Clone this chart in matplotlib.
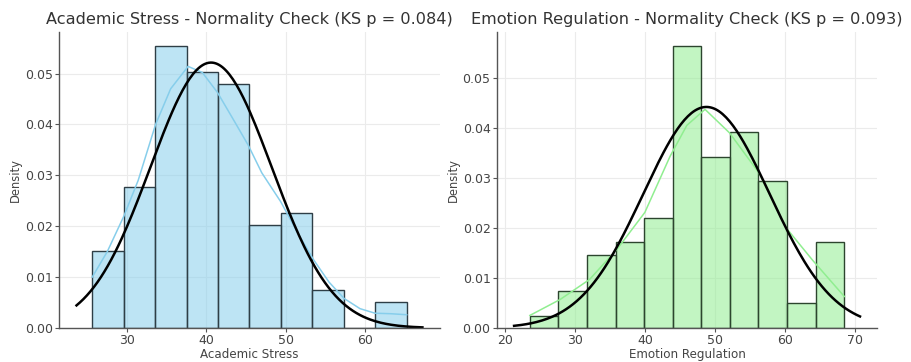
"""
Normality check histograms for academic stress and emotion regulation.
"""

import numpy as np
import matplotlib.pyplot as plt
from matplotlib.colors import to_rgba

# --- academic stress -------------------------------------------------------
stress_bin_edges = [25.60, 29.57, 33.54, 37.51, 41.48, 45.45, 49.42, 53.39, 57.36, 61.33, 65.30]
stress_counts = [6, 11, 22, 20, 19, 8, 9, 3, 0, 2]
stress_mean = 40.6
stress_sd = 7.65
stress_ks_p = 0.084
stress_kde_x = [25.6, 27.5, 29.6, 31.4, 33.6, 35.5, 37.7, 39.5, 41.4, 43.4, 45.3,
                47.0, 49.4, 51.5, 53.5, 55.5, 57.4, 59.4, 61.3, 63.3, 65.3]
stress_kde_y = [0.010, 0.015, 0.022, 0.029, 0.040, 0.047, 0.0514, 0.0502, 0.0463, 0.041, 0.0359,
                0.0305, 0.0248, 0.0188, 0.0135, 0.0090, 0.0058, 0.0038, 0.0029, 0.0028, 0.0026]

# --- emotion regulation ----------------------------------------------------
emotion_bin_edges = [23.56, 27.65, 31.73, 35.82, 39.90, 43.99, 48.07, 52.16, 56.24, 60.33, 64.41, 68.50]
emotion_counts = [1, 3, 6, 7, 9, 23, 14, 16, 12, 2, 7]
emotion_mean = 48.8
emotion_sd = 9.03
emotion_ks_p = 0.093
emotion_kde_x = [23.56, 27.9, 32.1, 36.0, 40.0, 43.6, 46.0, 48.6, 52.1, 56.3, 60.2, 64.0, 68.5]
emotion_kde_y = [0.0025, 0.0057, 0.0097, 0.0157, 0.0231, 0.0343, 0.0405, 0.0437, 0.039, 0.031,
                 0.020, 0.0135, 0.0063]

panels = [
    ("Academic Stress", stress_bin_edges, stress_counts, stress_kde_x, stress_kde_y,
     stress_mean, stress_sd, stress_ks_p, "skyblue", "#2e3e46"),
    ("Emotion Regulation", emotion_bin_edges, emotion_counts, emotion_kde_x, emotion_kde_y,
     emotion_mean, emotion_sd, emotion_ks_p, "lightgreen", "#2c452e"),
]

plt.rcParams["font.family"] = "DejaVu Sans"

fig, axes = plt.subplots(1, 2, figsize=(9.11, 3.62), dpi=100)
fig.subplots_adjust(left=0.065, right=0.963, bottom=0.094, top=0.912, wspace=0.15)

for ax, (name, edges, counts, kde_x, kde_y, mu, sd, ks_p, color, edge) in zip(axes, panels):
    ax.hist(edges[:-1], bins=edges, weights=counts, density=True,
            facecolor=to_rgba(color, 0.55), edgecolor=edge, linewidth=1.0)
    ax.plot(kde_x, kde_y, color=color, linewidth=1.1)

    # fitted normal curve over the histogram's x range
    xmin, xmax = ax.get_xlim()
    x = np.linspace(xmin, xmax, 200)
    pdf = np.exp(-0.5 * ((x - mu) / sd) ** 2) / (sd * np.sqrt(2 * np.pi))
    ax.plot(x, pdf, color="black", linewidth=1.8)

    ax.set_title(f"{name} - Normality Check (KS p = {ks_p:.3f})",
                 fontsize=11.6, color="#333333", pad=6)
    ax.set_xlabel(name, fontsize=8.6, color="#444444", labelpad=0.5)
    ax.set_ylabel("Density", fontsize=8.3, color="#444444", labelpad=2)

    ax.grid(True, color="#ebebeb", linewidth=0.8)
    ax.set_axisbelow(True)
    for side in ["top", "right"]:
        ax.spines[side].set_visible(False)
    for side in ["left", "bottom"]:
        ax.spines[side].set_color("#555555")
        ax.spines[side].set_linewidth(1.0)
    ax.tick_params(labelsize=9, colors="#555555", labelcolor="#444444", length=3, pad=1.5)

plt.savefig("out.png", dpi=100)
plt.close()
